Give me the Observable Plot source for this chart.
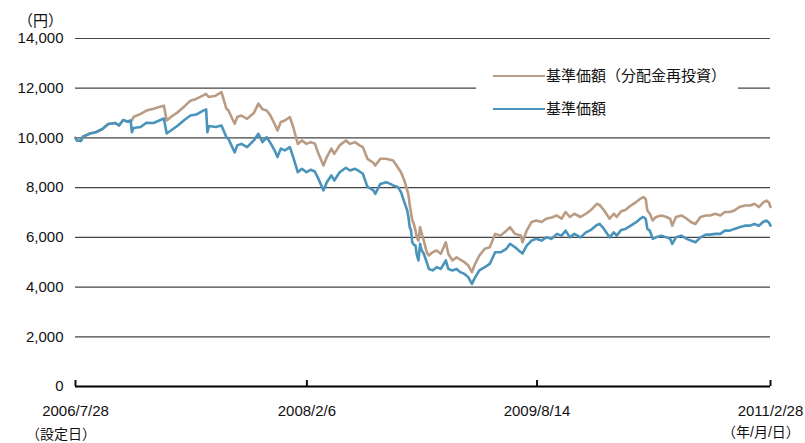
<!DOCTYPE html>
<html><head><meta charset="utf-8">
<script src="https://cdn.jsdelivr.net/npm/d3@7"></script>
<script src="https://cdn.jsdelivr.net/npm/@observablehq/plot@0.6"></script>
<style>
body{margin:0;background:#fff;font-family:"Liberation Sans","Noto Sans CJK JP",sans-serif;}
#wrap{position:relative;width:805px;height:443px;overflow:hidden;}
.lbl{position:absolute;font-size:15px;color:#111;white-space:nowrap;line-height:1;}
#legend{position:absolute;left:476px;top:60px;width:262px;height:64px;background:#fff;}
.sw{position:absolute;left:17px;width:52px;height:0;border-top:2.6px solid;}
.lt{position:absolute;left:70px;font-size:15px;color:#111;white-space:nowrap;line-height:1;}
</style></head>
<body><div id="wrap"></div>
<script>
const dates = [
"2006-07-28","2006-08-01","2006-08-10","2006-08-15","2006-09-01","2006-09-15","2006-10-01","2006-10-15","2006-11-01","2006-11-10","2006-11-20","2006-12-01","2006-12-08","2006-12-11","2006-12-15",
"2007-01-01","2007-01-15","2007-02-01","2007-02-15","2007-02-26","2007-03-05","2007-03-15","2007-04-01","2007-04-15","2007-05-01","2007-05-15","2007-06-01","2007-06-08","2007-06-11","2007-06-15","2007-07-01","2007-07-15","2007-07-27","2007-08-01","2007-08-10","2007-08-16","2007-08-22","2007-09-01","2007-09-15","2007-10-01","2007-10-12","2007-10-22","2007-11-01","2007-11-10","2007-11-20","2007-11-27","2007-12-05","2007-12-15","2007-12-27",
"2008-01-04","2008-01-15","2008-01-25","2008-02-05","2008-02-15","2008-02-25","2008-03-05","2008-03-17","2008-03-25","2008-04-05","2008-04-12","2008-04-25","2008-05-10","2008-05-20","2008-06-01","2008-06-12","2008-06-20","2008-07-01","2008-07-15","2008-07-20","2008-08-01","2008-08-15","2008-08-25","2008-09-01","2008-09-12","2008-09-20","2008-09-28","2008-10-05","2008-10-08","2008-10-11","2008-10-14","2008-10-17","2008-10-21","2008-10-25","2008-10-28","2008-11-01","2008-11-05","2008-11-08","2008-11-14","2008-11-21","2008-11-26","2008-12-05","2008-12-15","2008-12-25",
"2009-01-06","2009-01-12","2009-01-22","2009-02-01","2009-02-10","2009-02-20","2009-03-01","2009-03-10","2009-03-16","2009-03-28","2009-04-10","2009-04-22","2009-05-05","2009-05-18","2009-06-01","2009-06-10","2009-06-22","2009-07-06","2009-07-10","2009-07-20","2009-08-01","2009-08-12","2009-08-25","2009-09-05","2009-09-18","2009-10-01","2009-10-12","2009-10-22","2009-11-01","2009-11-12","2009-11-27","2009-12-10","2009-12-22",
"2010-01-05","2010-01-12","2010-01-22","2010-02-05","2010-02-15","2010-02-22","2010-03-05","2010-03-15","2010-03-28","2010-04-10","2010-04-20","2010-04-27","2010-05-03","2010-05-07","2010-05-13","2010-05-20","2010-05-28","2010-06-10","2010-06-22","2010-07-01","2010-07-06","2010-07-15","2010-07-28","2010-08-10","2010-08-20","2010-08-31","2010-09-12","2010-09-25","2010-10-05","2010-10-18","2010-10-30","2010-11-10","2010-11-22","2010-12-03","2010-12-15","2010-12-28",
"2011-01-10","2011-01-20","2011-01-31","2011-02-10","2011-02-18","2011-02-24","2011-02-28"
];
// 基準価額
const nav = [
10000,9900,9880,10050,10180,10230,10360,10560,10600,10500,10720,10650,10700,10230,10400,
10440,10610,10600,10700,10780,10180,10300,10500,10700,10900,10940,11100,11150,10230,10480,10440,10500,10030,9960,9630,9420,9700,9760,9630,9900,10170,9830,10030,9800,9500,9230,9570,9500,9630,
9230,8620,8760,8620,8720,8650,8350,7890,8220,8490,8290,8620,8800,8690,8760,8650,8560,8030,7900,7750,8150,8220,8150,8090,8030,7820,7420,7080,6800,6400,6300,5800,5700,5670,5300,5070,5740,5500,5340,5000,4730,4670,4800,4730,
5070,4730,4670,4730,4600,4530,4400,4130,4340,4670,4800,4930,5400,5400,5540,5740,5600,5400,5350,5670,5870,5940,5870,6000,5940,6140,6070,6270,6000,6140,6000,6200,6300,
6500,6540,6350,6000,6200,6070,6300,6340,6470,6610,6750,6820,6750,6340,6270,5940,6000,6070,6000,5940,5740,6000,6070,5940,5870,5800,6000,6110,6110,6140,6140,6270,6270,6340,6410,6470,
6470,6540,6470,6620,6680,6600,6470
];
// 基準価額（分配金再投資）
const navReinvest = [
10000,9900,9880,10050,10180,10230,10360,10560,10600,10500,10720,10650,10700,10700,10840,
10970,11100,11170,11240,11300,10700,10840,11040,11240,11500,11570,11710,11770,11700,11650,11700,11840,11170,11100,10770,10570,10840,10900,10770,11000,11380,11150,11100,10900,10570,10300,10640,10700,10840,
10440,9760,9900,9760,9830,9780,9360,8890,9230,9570,9360,9700,9900,9760,9830,9700,9630,9160,9000,8890,9160,9160,9120,9090,8820,8620,8290,7890,7700,7300,7000,6700,6540,6260,6000,5870,6410,6200,5870,5400,5270,5400,5470,5340,
5800,5340,5070,5200,5100,5000,4870,4600,4870,5270,5540,5600,6140,6070,6270,6410,6140,6070,5800,6270,6620,6680,6620,6750,6800,6880,6750,7020,6820,6950,6820,6950,7100,
7350,7300,7100,6750,6950,6820,7050,7100,7280,7420,7550,7620,7550,7080,6950,6680,6820,6880,6820,6750,6470,6820,6880,6750,6620,6540,6820,6880,6880,6950,6880,7020,7020,7080,7220,7280,
7280,7350,7220,7400,7480,7400,7220
];
const seriesNames = ["基準価額（分配金再投資）","基準価額"];
const seriesColors = ["#b99c83","#4a93bb"];
const yTicks = [0,2000,4000,6000,8000,10000,12000,14000];
const xTickDates = ["2006-07-28","2008-02-06","2009-08-14","2011-02-28"];
const xTickLabels = ["2006/7/28","2008/2/6","2009/8/14","2011/2/28"];

const rows = [
  ...dates.map((d,i)=>({date:new Date(d), value:navReinvest[i], series:seriesNames[0]})),
  ...dates.map((d,i)=>({date:new Date(d), value:nav[i], series:seriesNames[1]}))
];

const chart = Plot.plot({
  width:805, height:443,
  marginLeft:75, marginRight:35, marginTop:38, marginBottom:57,
  style:{fontFamily:'"Liberation Sans","Noto Sans CJK JP",sans-serif', fontSize:"15px", color:"#111", background:"#fff"},
  x:{type:"utc", domain:[new Date(dates[0]), new Date(dates[dates.length-1])]},
  y:{domain:[0,14000]},
  color:{domain:seriesNames, range:seriesColors},
  marks:[
    Plot.ruleY(yTicks.filter(v=>v>0), {stroke:"#444", strokeWidth:1.2}),
    Plot.line(rows, {x:"date", y:"value", z:"series", stroke:"series", strokeWidth:2.6}),
    Plot.ruleY([0], {stroke:"#000", strokeWidth:2}),
    Plot.axisY({ticks:yTicks, tickFormat:d3.format(","), tickSize:0, tickPadding:12, label:null, fill:"#111"}),
    Plot.axisX({ticks:xTickDates.map(d=>new Date(d)), tickFormat:(d,i)=>xTickLabels[i], tickSize:-6, tickPadding:25, strokeWidth:2, label:null, fill:"#111"})
  ]
});
const wrap = document.getElementById("wrap");
wrap.appendChild(chart);

function addLabel(text, left, top, size){
  const e=document.createElement("div"); e.className="lbl"; e.textContent=text;
  e.style.left=left+"px"; e.style.top=top+"px"; if(size) e.style.fontSize=size+"px"; wrap.appendChild(e);
}
addLabel("（円）", 18, 13);
addLabel("（設定日）", 26, 427, 14);
addLabel("（年/月/日）", 722, 425, 14);

const lg=document.createElement("div"); lg.id="legend"; wrap.appendChild(lg);
seriesNames.forEach((n,i)=>{
  const y = i===0 ? 16 : 49;
  const s=document.createElement("div"); s.className="sw"; s.style.top=(y-1)+"px"; s.style.borderTopColor=seriesColors[i]; lg.appendChild(s);
  const t=document.createElement("div"); t.className="lt"; t.style.top=(y-8)+"px"; t.textContent=n; lg.appendChild(t);
});
</script>
</body></html>
